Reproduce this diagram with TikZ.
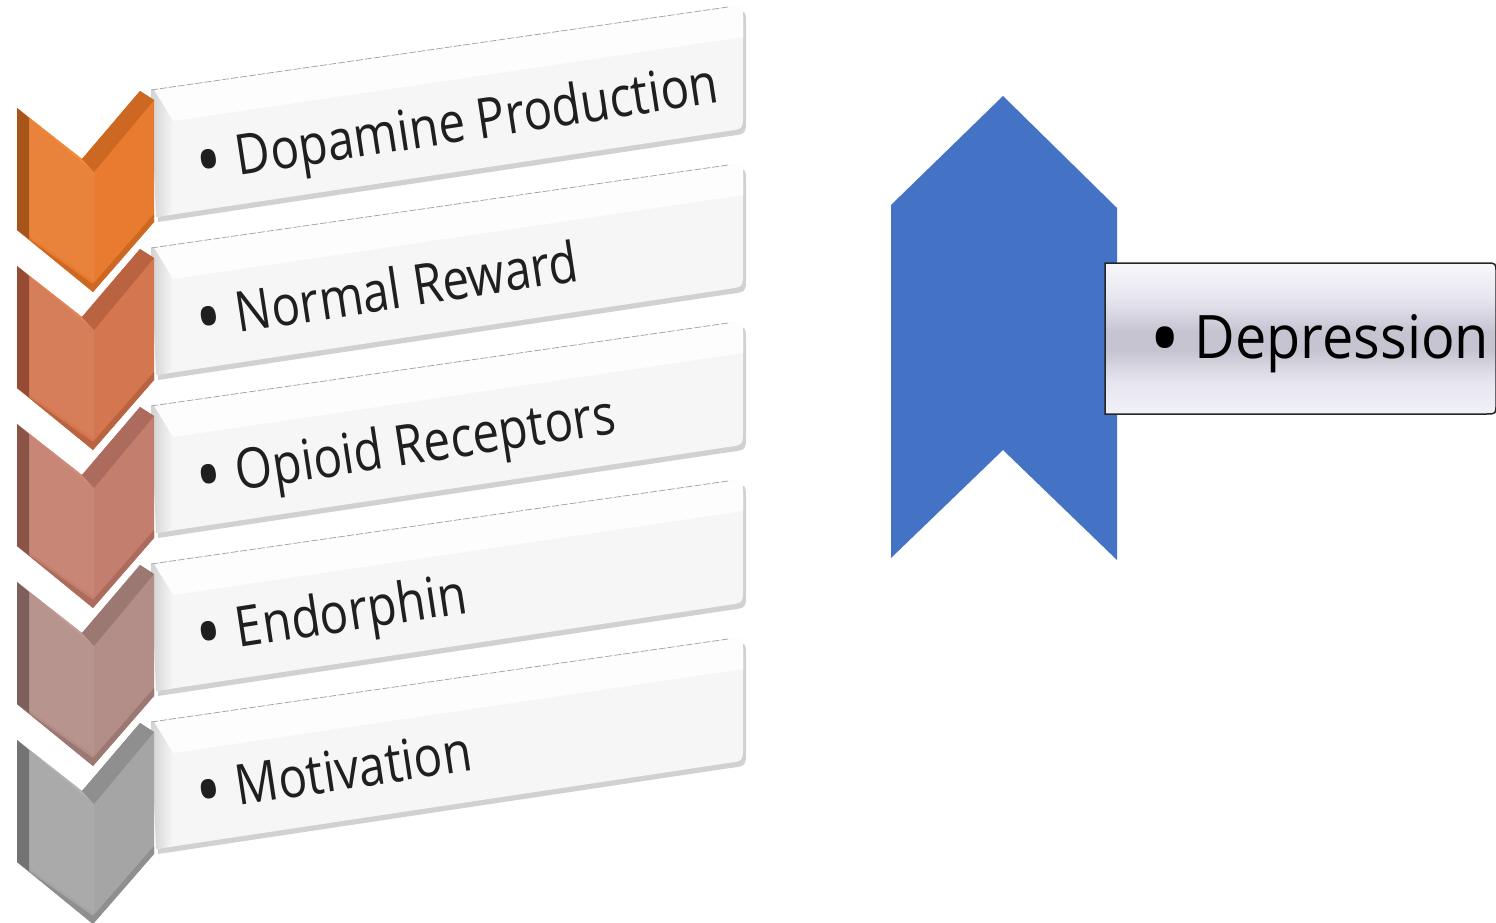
\documentclass[tikz,border=0pt]{standalone}
\usepackage{fontspec}
\setmainfont{Open Sans}
\usetikzlibrary{calc}
\definecolor{boxfront}{HTML}{F6F6F6}
\definecolor{boxtop}{HTML}{FDFDFD}
\definecolor{boxside}{HTML}{CDCDCD}
\definecolor{bluech}{HTML}{4472C4}
% chevron colours: main, light, dark, darker
\definecolor{chm1}{HTML}{E87B2F}\definecolor{chl1}{HTML}{F38C3C}\definecolor{chd1}{HTML}{CC6822}\definecolor{chdd1}{HTML}{A8551C}
\definecolor{chm2}{HTML}{D4764F}\definecolor{chl2}{HTML}{E3845A}\definecolor{chd2}{HTML}{BA6340}\definecolor{chdd2}{HTML}{954C32}
\definecolor{chm3}{HTML}{C47E6E}\definecolor{chl3}{HTML}{D28C7B}\definecolor{chd3}{HTML}{AC6B5C}\definecolor{chdd3}{HTML}{8A5447}
\definecolor{chm4}{HTML}{B38D88}\definecolor{chl4}{HTML}{C29C97}\definecolor{chd4}{HTML}{9C7873}\definecolor{chdd4}{HTML}{7D605C}
\definecolor{chm5}{HTML}{A5A5A5}\definecolor{chl5}{HTML}{B4B4B4}\definecolor{chd5}{HTML}{8F8F8F}\definecolor{chdd5}{HTML}{737373}
\definecolor{dtop}{HTML}{F7F7FC}
\definecolor{dlow}{HTML}{E6E5EF}
\definecolor{dmid}{HTML}{C6C4D0}
\definecolor{dbot}{HTML}{F1F1F8}
\pgfdeclareverticalshading{depshade}{100bp}{color(0bp)=(dbot); color(25bp)=(dbot); color(36bp)=(dlow); color(46bp)=(dmid); color(52bp)=(dmid); color(63bp)=(dlow); color(75bp)=(dtop); color(100bp)=(dtop)}
\newcommand\bigbul[2]{\raisebox{#2}{\scalebox{#1}{•}}}
\tikzset{
  lbl/.style={inner sep=0pt, anchor=base west, rotate=8.7, text=black!88, font=\fontsize{56}{60}\selectfont},
  deplbl/.style={inner sep=0pt, anchor=base west, text=black, font=\fontsize{60}{70}\selectfont}
}
\begin{document}
\begin{tikzpicture}[x=1pt,y=-1pt]
\useasboundingbox (0,0) rectangle (1496,923);
\fill[white] (0,0) rectangle (1496,923);

% ---- white 3D bars ----
\foreach \k in {0,...,4}{
\begin{scope}[shift={(0,158*\k)}]
  \fill[black!40,opacity=0.45] (153,95) -- (730,12) .. controls (746,10) .. (746,25) -- (746,119) .. controls (746,134) .. (730,136) -- (158,222) -- cycle;
  \fill[boxfront] (151,90) -- (728,7) .. controls (743,5) .. (743,20) -- (743,114) .. controls (743,129) .. (728,131) -- (156,217) -- cycle;
  \begin{scope}
    \clip (151,90) -- (728,7) .. controls (743,5) .. (743,20) -- (743,114) .. controls (743,129) .. (728,131) -- (156,217) -- cycle;
    \fill[boxtop] (151,90) -- (750,4) -- (750,36) -- (173,121) -- cycle;
    \shade[left color=boxside, right color=boxfront] (148,80) -- (173,121) -- (173,211) -- (148,225) -- cycle;
  \end{scope}
  \draw[gray!75, line width=0.7pt, dash pattern=on 7pt off 2pt] (151,90) -- (728,7);
\end{scope}}

% ---- chevrons ----
\foreach \k/\c in {0/1,1/2,2/3,3/4,4/5}{
\begin{scope}[shift={(0,158*\k)}]
  \fill[chm\c] (17,108) -- (82,159) -- (140,91) -- (154,100) -- (154,222) -- (93,292) -- (17,230) -- cycle;
  \fill[chm\c!94!white] (29,118) -- (94,172) -- (94,281) -- (29,236) -- cycle;
  \fill[chl\c] (17,108) -- (82,159) -- (94,172) -- (29,118) -- cycle;
  \fill[chd\c] (82,159) -- (140,91) -- (154,100) -- (94,172) -- cycle;
  \fill[chd\c] (17,230) -- (93,292) -- (154,222) -- (154,214) -- (93,284) -- (29,239) -- cycle;
  \fill[chdd\c] (17,108) -- (29,118) -- (29,239) -- (17,230) -- cycle;
\end{scope}}

% ---- labels of the bars ----
\node[lbl] (t1) at (199,182) {\scalebox{0.85}[1]{\bigbul{1.45}{-0.15em}\hspace{0.3em}Dopamine Production}};
\node[lbl] (t2) at (199,339) {\scalebox{0.85}[1]{\bigbul{1.45}{-0.15em}\hspace{0.3em}Normal Reward}};
\node[lbl] (t3) at (199,497) {\scalebox{0.85}[1]{\bigbul{1.45}{-0.15em}\hspace{0.3em}Opioid Receptors}};
\node[lbl] (t4) at (199,654) {\scalebox{0.85}[1]{\bigbul{1.45}{-0.15em}\hspace{0.3em}Endorphin}};
\node[lbl] (t5) at (199,812) {\scalebox{0.85}[1]{\bigbul{1.45}{-0.15em}\hspace{0.3em}Motivation}};

% ---- blue chevron ----
\fill[bluech] (891,205) -- (1003,96) -- (1117,208) -- (1117,560) -- (1003,450) -- (891,558) -- cycle;

% ---- depression box ----
\path[draw=black!85, line width=1.5pt, shading=depshade] (1105,263) -- (1486,263) .. controls (1496,263) .. (1496,273) -- (1496,404) .. controls (1496,414) .. (1486,414) -- (1105,414) -- cycle;
\node[deplbl] (dep) at (1149,358) {\scalebox{0.93}[1]{\bigbul{1.5}{-0.2em}\hspace{0.25em}Depression}};
\end{tikzpicture}
\end{document}
